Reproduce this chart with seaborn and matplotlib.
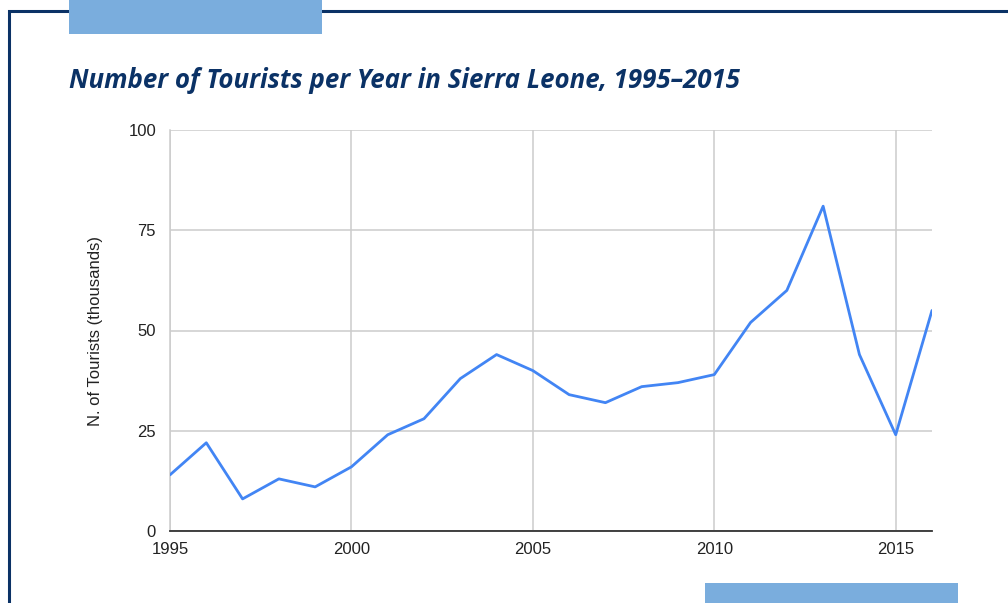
import matplotlib
matplotlib.use("Agg")
import matplotlib.pyplot as plt
import matplotlib.patches as mpatches
import seaborn as sns
import pandas as pd

years = list(range(1995, 2017))
tourists = [14, 22, 8, 13, 11, 16, 24, 28, 38, 44, 40, 34, 32, 36, 37, 39, 52, 60, 81, 44, 24, 55]
x_ticks = [1995, 2000, 2005, 2010, 2015]
y_ticks = [0, 25, 50, 75, 100]
title = "Number of Tourists per Year in Sierra Leone, 1995\u20132015"
y_label = "N. of Tourists (thousands)"

df = pd.DataFrame({"Year": years, "Tourists": tourists})

sns.set_theme(style="white")
plt.rcParams["font.family"] = ["Liberation Sans", "DejaVu Sans"]

W, H = 1008, 603
fig = plt.figure(figsize=(W / 100, H / 100), dpi=100)
fig.patch.set_facecolor("white")

navy = "#0b3266"
lightblue = "#7aaddd"

# frame border
fig.add_artist(mpatches.Rectangle((9 / W, -0.1), 1.2, (603 - 11) / H + 0.1,
                                  transform=fig.transFigure, fill=False,
                                  edgecolor=navy, linewidth=2.2))
# decorative rectangles
fig.add_artist(mpatches.Rectangle((69 / W, (H - 34) / H), (322 - 69) / W, 34 / H + 0.01,
                                  transform=fig.transFigure, facecolor=lightblue,
                                  edgecolor="none"))
fig.add_artist(mpatches.Rectangle((705 / W, -0.01), (958 - 705) / W, (603 - 583) / H + 0.01,
                                  transform=fig.transFigure, facecolor=lightblue,
                                  edgecolor="none"))

fig.text(69 / W, (H - 88) / H, title, fontsize=18.6, fontweight="bold",
         fontstyle="italic", color=navy, family=["Open Sans", "DejaVu Sans"],
         ha="left", va="baseline")

ax = fig.add_axes([170 / W, (H - 531) / H, (932 - 170) / W, (531 - 130) / H])
sns.lineplot(data=df, x="Year", y="Tourists", ax=ax, color="#4285f4",
             linewidth=2.0, zorder=3)

ax.set_xlim(1995, 2016)
ax.set_ylim(0, 100)
ax.set_xticks(x_ticks)
ax.set_yticks(y_ticks)
ax.set_xticklabels([str(t) for t in x_ticks])
ax.set_yticklabels([str(t) for t in y_ticks])
ax.grid(True, color="#cccccc", linewidth=1.1)
ax.set_axisbelow(True)
for s in ["top", "right"]:
    ax.spines[s].set_visible(False)
ax.spines["left"].set_color("#cccccc")
ax.spines["left"].set_linewidth(1.1)
ax.spines["bottom"].set_color("#333333")
ax.spines["bottom"].set_linewidth(1.3)
ax.tick_params(axis="both", length=0, labelsize=12, colors="#222222")
ax.tick_params(axis="y", pad=10)
ax.tick_params(axis="x", pad=8)
ax.set_xlabel("")
ax.set_ylabel(y_label, fontsize=12, color="#222222", labelpad=18)

fig.savefig("out.png", dpi=100, facecolor="white")
